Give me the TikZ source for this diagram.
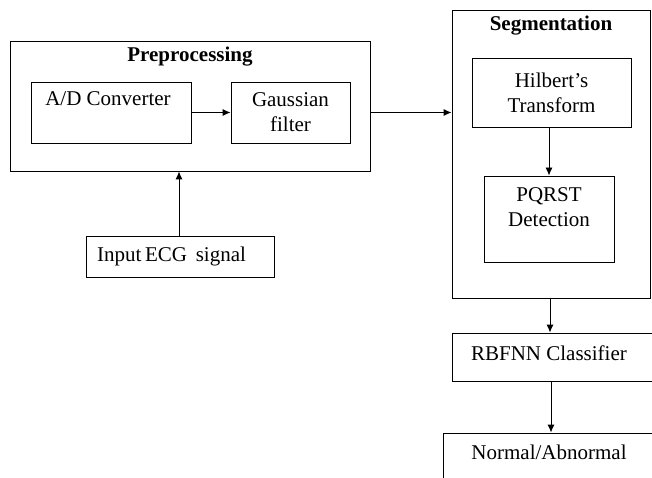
\documentclass[tikz,border=0pt]{standalone}
\usepackage{fontspec}
\setmainfont{Liberation Serif}
\usetikzlibrary{arrows.meta}
\definecolor{black}{RGB}{0,0,0}
\definecolor{white}{RGB}{255,255,255}

\tikzset{
	blockbox/.style={draw=black,line width=0.9pt,inner sep=0pt},
	blocktext/.style={align=center,inner sep=0pt,font=\fontsize{21}{25}\selectfont},
	titletext/.style={blocktext,font=\fontsize{21}{25}\selectfont\bfseries},
	flow/.style={black,line width=0.9pt,-{Latex[length=8pt,width=7pt]}}
}

\begin{document}
\begin{tikzpicture}[x=1pt,y=-1pt]
	\useasboundingbox[fill=white] (0,0) rectangle (652,478);
	
	\node[blockbox,minimum width=360,minimum height=130] (pre) at (190,106) {};
	\node[titletext] (pretitle) at (190,57) {Preprocessing};
	\node[blockbox,minimum width=160,minimum height=61] (adc) at (111,112.5) {};
	\node[blocktext] (adctext) at (108,99) {A/D Converter};
	\node[blockbox,blocktext,minimum width=119,minimum height=61] (gauss) at (290.5,112.5) {Gaussian\\filter};
	\node[blockbox,minimum width=188,minimum height=41] (input) at (180,256.5) {};
	\node[blocktext,anchor=west] (inputtext) at (97,256) {Input\,ECG\, signal};
	
	\node[blockbox,minimum width=198,minimum height=288] (seg) at (551,154) {};
	\node[titletext] (segtitle) at (551,26) {Segmentation};
	\node[blockbox,blocktext,minimum width=159,minimum height=69] (hilb) at (551.5,92.5) {Hilbert's\\Transform};
	\node[blockbox,minimum width=130,minimum height=86] (pqrst) at (549,219) {};
	\node[blocktext] (pqrsttext) at (549,207.5) {PQRST\\Detection};
	
	\node[blockbox,minimum width=220,minimum height=48] (rbf) at (562,357) {};
	\node[blocktext] (rbftext) at (549,353) {RBFNN Classifier};
	\node[blockbox,minimum width=230,minimum height=70] (normal) at (558,468) {};
	\node[blocktext] (normaltext) at (549,452) {Normal/Abnormal};
	
	\draw[flow] (adc.east |- gauss.center) -- (gauss.west);
	\draw[flow] (gauss.center -| pre.east) -- (gauss.center -| seg.west);
	\draw[flow] (input.north -| 179,0) -- (pre.south -| 179,0);
	\draw[flow] (hilb.south -| pqrst.north) -- (pqrst.north);
	\draw[flow] (seg.south -| 550,0) -- (rbf.north -| 550,0);
	\draw[flow] (rbf.south -| 551,0) -- (normal.north -| 551,0);
\end{tikzpicture}
\end{document}
